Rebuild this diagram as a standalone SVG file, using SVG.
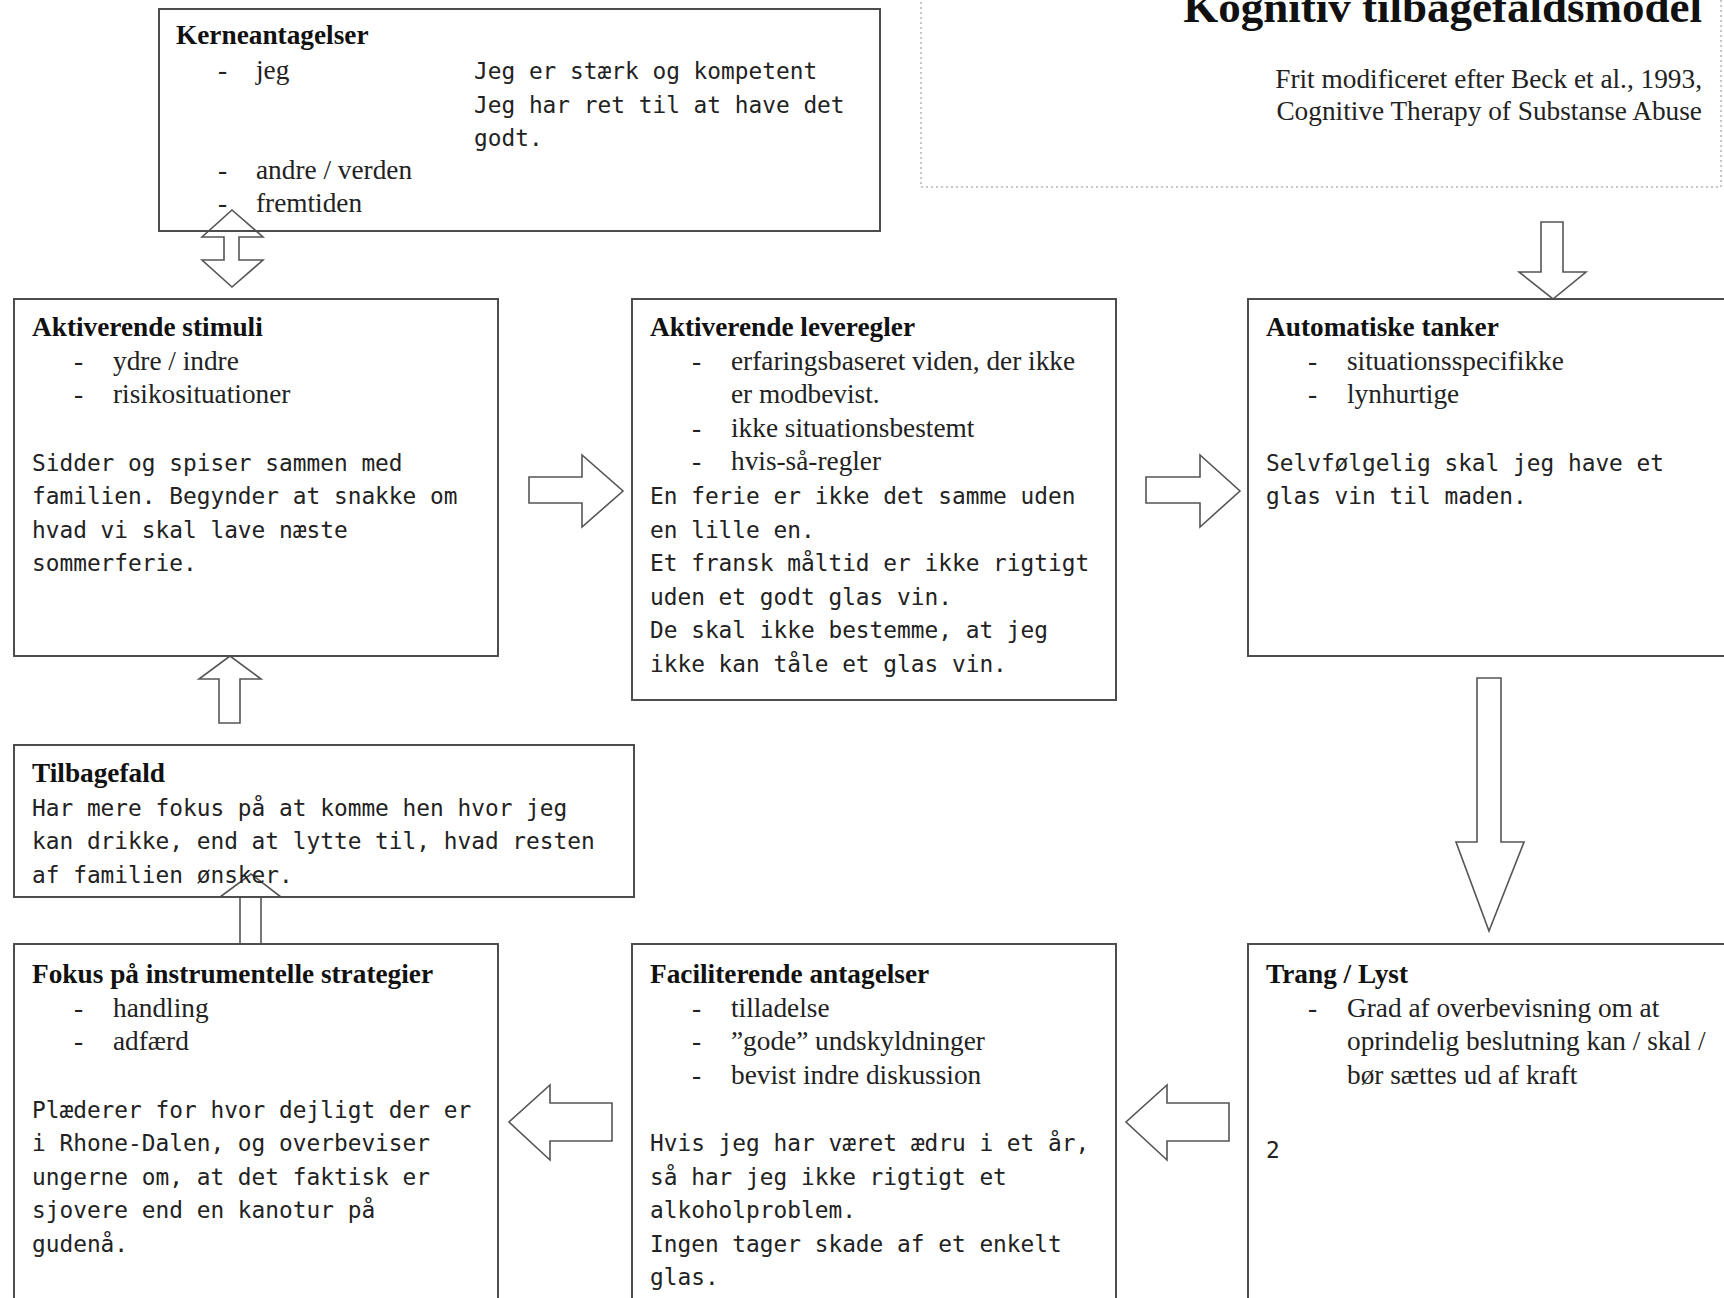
<svg xmlns="http://www.w3.org/2000/svg" width="1724" height="1298" viewBox="0 0 1724 1298">
<style>
.box{fill:none;stroke:#4d4d4d;stroke-width:2}
.arr{fill:#fff;stroke:#555;stroke-width:1.6;stroke-linejoin:miter}
.h{font-family:"Liberation Serif","Times New Roman",serif;font-weight:bold;font-size:27.3px;fill:#111}
.s{font-family:"Liberation Serif","Times New Roman",serif;font-size:27.3px;fill:#222}
.m{font-family:"DejaVu Sans Mono","Liberation Mono",monospace;font-size:22.8px;fill:#222}
.title{font-family:"Liberation Serif","Times New Roman",serif;font-weight:bold;font-size:45px;fill:#111}
</style>
<rect x="0" y="0" width="1724" height="1298" fill="#fff"/>

<g id="header">
  <rect x="921" y="-20" width="800" height="207" fill="none" stroke="#b5b5b5" stroke-width="1.5" stroke-dasharray="2 3"/>
  <text class="title" x="1702" y="22" text-anchor="end">Kognitiv tilbagefaldsmodel</text>
  <text class="s" x="1702" y="88" text-anchor="end">Frit modificeret efter Beck et al., 1993,</text>
  <text class="s" x="1702" y="120" text-anchor="end">Cognitive Therapy of Substanse Abuse</text>
</g>

<g id="connectors">
  <polygon class="arr" points="232,210 263,237 239,237 239,260 263,260 232,287 202,260 224,260 224,237 202,237"/>
  <polygon class="arr" points="529,477 582,477 582,455 623,491 582,527 582,503 529,503"/>
  <polygon class="arr" points="1146,477 1200,477 1200,455 1240,491 1200,527 1200,503 1146,503"/>
  <polygon class="arr" points="1541,222 1563,222 1563,272 1586,272 1553,299 1519,272 1541,272"/>
  <polygon class="arr" points="1477,678 1501,678 1501,842 1524,842 1489,931 1456,842 1477,842"/>
  <polygon class="arr" points="1229,1103 1167,1103 1167,1085 1126,1122 1167,1160 1167,1141 1229,1141"/>
  <polygon class="arr" points="612,1103 550,1103 550,1085 509,1122 550,1160 550,1141 612,1141"/>
  <polygon class="arr" points="240,944 240,897 220,897 251,874 281,897 261,897 261,944"/>
  <polygon class="arr" points="219,723 219,679 199,679 230,656 261,679 240,679 240,723"/>
</g>

<g id="n-kerneantagelser">
  <rect class="box" x="159" y="9" width="721" height="222"/>
  <text class="h" x="176" y="44">Kerneantagelser</text>
  <text class="s" x="218" y="79">-</text><text class="s" x="256" y="79">jeg</text>
  <text class="m" x="474" y="79">Jeg er stærk og kompetent</text>
  <text class="m" x="474" y="113">Jeg har ret til at have det</text>
  <text class="m" x="474" y="146">godt.</text>
  <text class="s" x="218" y="179">-</text><text class="s" x="256" y="179">andre / verden</text>
  <text class="s" x="218" y="212">-</text><text class="s" x="256" y="212">fremtiden</text>
</g>

<g id="n-aktiverende-stimuli">
  <rect class="box" x="14" y="299" width="484" height="357"/>
  <text class="h" x="32" y="336">Aktiverende stimuli</text>
  <text class="s" x="74" y="370">-</text><text class="s" x="113" y="370">ydre / indre</text>
  <text class="s" x="74" y="403">-</text><text class="s" x="113" y="403">risikosituationer</text>
  <text class="m" x="32" y="471">Sidder og spiser sammen med</text>
  <text class="m" x="32" y="504">familien. Begynder at snakke om</text>
  <text class="m" x="32" y="538">hvad vi skal lave næste</text>
  <text class="m" x="32" y="571">sommerferie.</text>
</g>

<g id="n-aktiverende-leveregler">
  <rect class="box" x="632" y="299" width="484" height="401"/>
  <text class="h" x="650" y="336">Aktiverende leveregler</text>
  <text class="s" x="692" y="370">-</text><text class="s" x="731" y="370">erfaringsbaseret viden, der ikke</text>
  <text class="s" x="731" y="403">er modbevist.</text>
  <text class="s" x="692" y="437">-</text><text class="s" x="731" y="437">ikke situationsbestemt</text>
  <text class="s" x="692" y="470">-</text><text class="s" x="731" y="470">hvis-så-regler</text>
  <text class="m" x="650" y="504">En ferie er ikke det samme uden</text>
  <text class="m" x="650" y="538">en lille en.</text>
  <text class="m" x="650" y="571">Et fransk måltid er ikke rigtigt</text>
  <text class="m" x="650" y="605">uden et godt glas vin.</text>
  <text class="m" x="650" y="638">De skal ikke bestemme, at jeg</text>
  <text class="m" x="650" y="672">ikke kan tåle et glas vin.</text>
</g>

<g id="n-automatiske-tanker">
  <rect class="box" x="1248" y="299" width="520" height="357"/>
  <text class="h" x="1266" y="336">Automatiske tanker</text>
  <text class="s" x="1308" y="370">-</text><text class="s" x="1347" y="370">situationsspecifikke</text>
  <text class="s" x="1308" y="403">-</text><text class="s" x="1347" y="403">lynhurtige</text>
  <text class="m" x="1266" y="471">Selvfølgelig skal jeg have et</text>
  <text class="m" x="1266" y="504">glas vin til maden.</text>
</g>

<g id="n-tilbagefald">
  <rect class="box" x="14" y="745" width="620" height="152"/>
  <text class="h" x="32" y="782">Tilbagefald</text>
  <text class="m" x="32" y="816">Har mere fokus på at komme hen hvor jeg</text>
  <text class="m" x="32" y="849">kan drikke, end at lytte til, hvad resten</text>
  <text class="m" x="32" y="883">af familien ønsker.</text>
</g>

<g id="n-fokus">
  <rect class="box" x="14" y="944" width="484" height="380"/>
  <text class="h" x="32" y="983">Fokus på instrumentelle strategier</text>
  <text class="s" x="74" y="1017">-</text><text class="s" x="113" y="1017">handling</text>
  <text class="s" x="74" y="1050">-</text><text class="s" x="113" y="1050">adfærd</text>
  <text class="m" x="32" y="1118">Plæderer for hvor dejligt der er</text>
  <text class="m" x="32" y="1151">i Rhone-Dalen, og overbeviser</text>
  <text class="m" x="32" y="1185">ungerne om, at det faktisk er</text>
  <text class="m" x="32" y="1218">sjovere end en kanotur på</text>
  <text class="m" x="32" y="1252">gudenå.</text>
</g>

<g id="n-faciliterende">
  <rect class="box" x="632" y="944" width="484" height="380"/>
  <text class="h" x="650" y="983">Faciliterende antagelser</text>
  <text class="s" x="692" y="1017">-</text><text class="s" x="731" y="1017">tilladelse</text>
  <text class="s" x="692" y="1050">-</text><text class="s" x="731" y="1050">”gode” undskyldninger</text>
  <text class="s" x="692" y="1084">-</text><text class="s" x="731" y="1084">bevist indre diskussion</text>
  <text class="m" x="650" y="1151">Hvis jeg har været ædru i et år,</text>
  <text class="m" x="650" y="1185">så har jeg ikke rigtigt et</text>
  <text class="m" x="650" y="1218">alkoholproblem.</text>
  <text class="m" x="650" y="1252">Ingen tager skade af et enkelt</text>
  <text class="m" x="650" y="1285">glas.</text>
</g>

<g id="n-trang">
  <rect class="box" x="1248" y="944" width="520" height="380"/>
  <text class="h" x="1266" y="983">Trang / Lyst</text>
  <text class="s" x="1308" y="1017">-</text><text class="s" x="1347" y="1017">Grad af overbevisning om at</text>
  <text class="s" x="1347" y="1050">oprindelig beslutning kan / skal /</text>
  <text class="s" x="1347" y="1084">bør sættes ud af kraft</text>
  <text class="m" x="1266" y="1158">2</text>
</g>
</svg>
